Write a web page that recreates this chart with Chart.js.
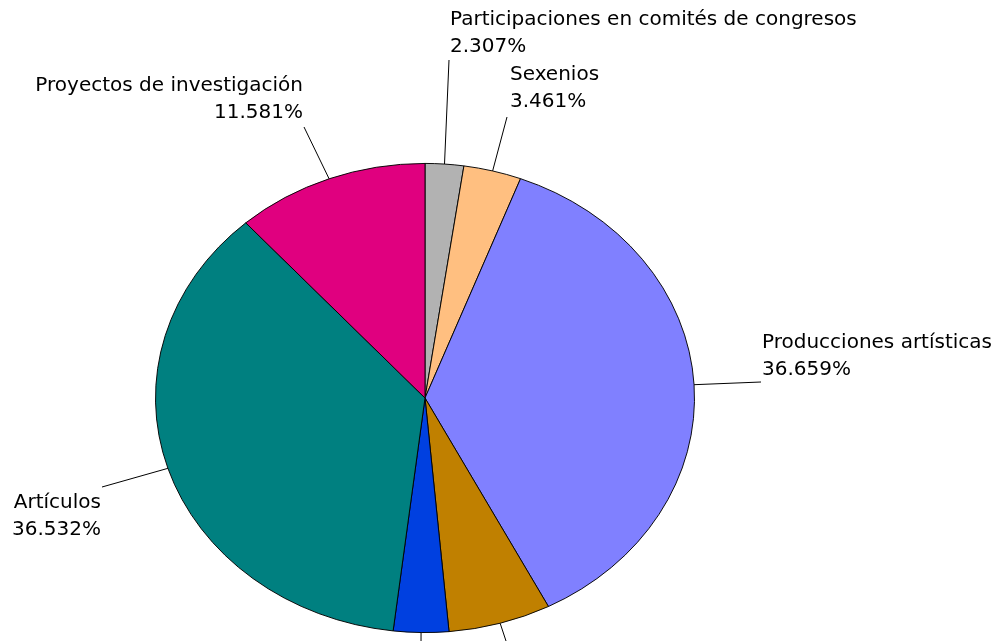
<!DOCTYPE html>
<html>
<head>
<meta charset="utf-8">
<script src="https://cdn.jsdelivr.net/npm/chart.js@4"></script>
<style>
  html, body { margin: 0; padding: 0; background: #fff; }
  #wrap { width: 1001px; height: 641px; }
</style>
</head>
<body>
<div id="wrap"><canvas id="pieChart" width="1001" height="641"></canvas></div>
<script>
// data
const categories = [
  "Participaciones en comités de congresos",
  "Sexenios",
  "Producciones artísticas",
  "Libros",
  "Tesis dirigidas",
  "Artículos",
  "Proyectos de investigación",
];
const percentages = [2.307, 3.461, 36.659, 6.152, 3.309, 36.532, 11.581];
const sliceColors = ["#B2B2B2", "#FFBF80", "#8080FF", "#C08000", "#0040E0", "#008080", "#E0007F"];

// label layout: text anchor, alignment, end of the leader line
const labelLayout = [
  { x: 450, y: 20, align: "left", lx: 449, ly: 60 },
  { x: 510, y: 75, align: "left", lx: 507, ly: 117 },
  { x: 762, y: 343, align: "left", lx: 761, ly: 382 },
  { x: 510, y: 660, align: "left", lx: 509, ly: 650 },
  { x: 421, y: 660, align: "left", lx: 421, ly: 650 },
  { x: 101, y: 503, align: "right", lx: 102, ly: 487 },
  { x: 303, y: 86, align: "right", lx: 304, ly: 127 },
];

const centerY = 398;
const squash = 235 / 270;

// squash the circle into the ellipse of the reference
const ellipsePlugin = {
  id: "ellipse",
  beforeDatasetsDraw(chart) {
    const arc = chart.getDatasetMeta(0).data[0];
    const ctx = chart.ctx;
    ctx.save();
    ctx.translate(arc.x, centerY);
    ctx.scale(1, squash);
    ctx.translate(-arc.x, -arc.y);
  },
  afterDatasetsDraw(chart) {
    chart.ctx.restore();
  },
};

const labelPlugin = {
  id: "sliceLabels",
  afterDraw(chart) {
    const ctx = chart.ctx;
    const arcs = chart.getDatasetMeta(0).data;
    ctx.save();
    ctx.font = "20px 'DejaVu Sans'";
    ctx.fillStyle = "#000";
    ctx.strokeStyle = "#000";
    ctx.lineWidth = 1;
    ctx.textBaseline = "middle";
    arcs.forEach((arc, i) => {
      const mid = (arc.startAngle + arc.endAngle) / 2;
      const px = arc.x + Math.cos(mid) * arc.outerRadius;
      const py = centerY + Math.sin(mid) * arc.outerRadius * squash;
      const lay = labelLayout[i];
      ctx.beginPath();
      ctx.moveTo(px, py);
      ctx.lineTo(lay.lx, lay.ly);
      ctx.stroke();
      ctx.textAlign = lay.align;
      ctx.fillText(categories[i], lay.x, lay.y);
      ctx.fillText(percentages[i].toFixed(3) + "%", lay.x, lay.y + 27);
    });
    ctx.restore();
  },
};

const pieCtx = document.getElementById("pieChart").getContext("2d");
const pieChart = new Chart(pieCtx, {
  type: "pie",
  data: {
    labels: categories,
    datasets: [
      {
        data: percentages,
        backgroundColor: sliceColors,
        borderColor: "#000",
        borderWidth: 1,
      },
    ],
  },
  options: {
    responsive: false,
    animation: false,
    layout: { padding: { left: 155, right: 306, top: 50, bottom: 51 } },
    plugins: {
      legend: { display: false },
      tooltip: { enabled: false },
    },
  },
  plugins: [ellipsePlugin, labelPlugin],
});
</script>
</body>
</html>
